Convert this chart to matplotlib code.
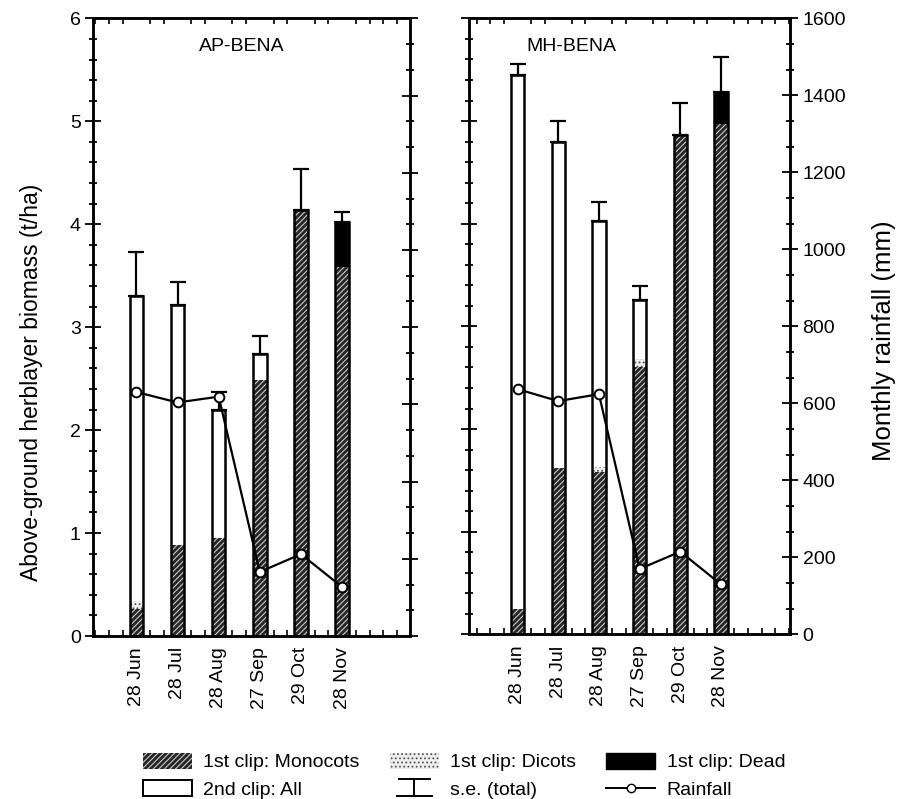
"""Herblayer biomass by clip date at two BENA sites, with monthly rainfall."""

import matplotlib

matplotlib.use("Agg")
import matplotlib.pyplot as plt
import numpy as np
from matplotlib.legend_handler import HandlerBase
from matplotlib.lines import Line2D
from matplotlib.patches import Patch
from matplotlib.ticker import MultipleLocator

plt.rcParams["font.family"] = ["Liberation Sans", "DejaVu Sans"]
plt.rcParams["hatch.linewidth"] = 0.8

DATES = ["28 Jun", "28 Jul", "28 Aug", "27 Sep", "29 Oct", "28 Nov"]

# AP-BENA (t/ha, rainfall mm)
AP_MONO = [0.26, 0.88, 0.95, 2.49, 4.14, 3.58]
AP_DICOT = [0.08, 0.0, 0.0, 0.0, 0.0, 0.0]
AP_DEAD = [0.0, 0.0, 0.0, 0.0, 0.0, 0.44]
AP_SECOND = [2.96, 2.34, 1.25, 0.25, 0.0, 0.0]
AP_SE = [0.43, 0.22, 0.17, 0.17, 0.40, 0.10]
AP_RAIN = [632, 605, 620, 166, 212, 127]

# MH-BENA
MH_MONO = [0.25, 1.62, 1.58, 2.60, 4.86, 4.97]
MH_DICOT = [0.0, 0.0, 0.05, 0.08, 0.0, 0.0]
MH_DEAD = [0.0, 0.0, 0.0, 0.0, 0.0, 0.31]
MH_SECOND = [5.20, 3.18, 2.40, 0.58, 0.0, 0.0]
MH_SE = [0.11, 0.20, 0.18, 0.13, 0.32, 0.34]
MH_RAIN = [637, 606, 624, 170, 215, 130]

MONO_FACE = "#262626"
MONO_HATCH = "#c8c8c8"
BAR_W = 0.33
FS = 14


class SEHandler(HandlerBase):
    """Legend key for the s.e. bar: cap, stem and base line."""

    def create_artists(self, legend, orig_handle, xdescent, ydescent,
                       width, height, fontsize, trans):
        cx = width / 2 - xdescent
        top = height * 1.0
        bot = -height * 0.05
        kw = dict(color="black", linewidth=1.4, transform=trans)
        return [
            Line2D([cx - width * 0.32, cx + width * 0.32], [top, top], **kw),
            Line2D([cx, cx], [bot, top], **kw),
            Line2D([cx - width * 0.36, cx + width * 0.36], [bot, bot], **kw),
        ]


def style_y(axis_obj, major, minor, labels_on, side):
    axis_obj.yaxis.set_major_locator(MultipleLocator(major))
    axis_obj.yaxis.set_minor_locator(MultipleLocator(minor))
    flags = {"left": side == "left", "right": side == "right",
             "labelleft": side == "left" and labels_on,
             "labelright": side == "right" and labels_on}
    axis_obj.tick_params(axis="y", which="major", direction="inout",
                         length=11, width=1.3, labelsize=FS, **flags)
    axis_obj.tick_params(axis="y", which="minor", direction="inout",
                         length=6, width=1.3, left=flags["left"],
                         right=flags["right"])


def draw_panel(ax, title, title_x, mono, dicot, dead, second, se, rain,
               xlim, label_left):
    x = np.arange(1, len(DATES) + 1)
    mono = np.array(mono)
    dicot = np.array(dicot)
    dead = np.array(dead)
    second = np.array(second)
    total = mono + dicot + dead + second

    ax2 = ax.twinx()

    ax.bar(x, mono, BAR_W, color=MONO_FACE, edgecolor=MONO_HATCH,
           hatch="//////", linewidth=0, zorder=2)
    ax.bar(x, dicot, BAR_W, bottom=mono, color="#eeeeee", edgecolor="#555555",
           hatch="....", linewidth=0, zorder=2)
    ax.bar(x, dead, BAR_W, bottom=mono + dicot, color="black", linewidth=0,
           zorder=2)
    ax.bar(x, second, BAR_W, bottom=mono + dicot + dead, color="white",
           linewidth=0, zorder=2)
    ax.bar(x, total, BAR_W, fill=False, edgecolor="black", linewidth=1.8,
           zorder=3)
    ax.errorbar(x, total, yerr=[np.zeros_like(total), np.array(se)],
                fmt="none", ecolor="black", elinewidth=1.6, capsize=5.5,
                capthick=1.6, zorder=3)

    ax.set_xlim(*xlim)
    ax.set_ylim(0, 6)
    ax.set_xticks(x)
    ax.set_xticklabels(DATES, rotation=90, fontsize=FS)
    ax.tick_params(axis="x", which="major", length=0, pad=8)
    ax.xaxis.set_minor_locator(MultipleLocator(1 / 3))
    ax.tick_params(axis="x", which="minor", direction="in", length=4,
                   width=1.2, top=True, bottom=True)
    style_y(ax, 1, 0.2, label_left, "left")
    for sp in ax.spines.values():
        sp.set_linewidth(1.8)
    ax.text(title_x, 0.955, title, transform=ax.transAxes, ha="center",
            va="center", fontsize=FS)

    ax2.plot(x, rain, color="black", linewidth=1.6, marker="o", markersize=7,
             markerfacecolor="white", markeredgecolor="black",
             markeredgewidth=1.4, zorder=4)
    ax2.set_ylim(0, 1600)
    style_y(ax2, 200, 200 / 3, not label_left, "right")
    for sp in ax2.spines.values():
        sp.set_linewidth(1.8)
    return ax2


def main():
    fig = plt.figure(figsize=(9.05, 7.99), dpi=100)
    ax_l = fig.add_axes([0.103, 0.204, 0.350, 0.773])
    ax_r = fig.add_axes([0.518, 0.206, 0.355, 0.771])

    draw_panel(ax_l, "AP-BENA", 0.47, AP_MONO, AP_DICOT, AP_DEAD, AP_SECOND,
               AP_SE, AP_RAIN, (-0.05, 7.65), label_left=True)
    ax_r2 = draw_panel(ax_r, "MH-BENA", 0.32, MH_MONO, MH_DICOT, MH_DEAD,
                       MH_SECOND, MH_SE, MH_RAIN, (-0.2, 7.7), label_left=False)

    ax_l.set_ylabel("Above-ground herblayer biomass (t/ha)", fontsize=16.5)
    ax_l.yaxis.set_label_coords(-0.16, 0.41)
    ax_r2.set_ylabel("Monthly rainfall (mm)", fontsize=18.5)
    ax_r2.yaxis.set_label_coords(1.255, 0.476)

    handles = [
        Patch(facecolor=MONO_FACE, edgecolor=MONO_HATCH, hatch="//////",
              linewidth=0),
        Patch(facecolor="white", edgecolor="black", linewidth=1.4),
        Patch(facecolor="#eeeeee", edgecolor="#555555", hatch="....",
              linewidth=0),
        "se",
        Patch(facecolor="black", edgecolor="black"),
        Line2D([], [], color="black", linewidth=1.4, marker="o", markersize=6,
               markerfacecolor="white", markeredgecolor="black"),
    ]
    labels = ["1st clip: Monocots", "2nd clip: All", "1st clip: Dicots",
              "s.e. (total)", "1st clip: Dead", "Rainfall"]
    fig.legend(handles, labels, ncol=3, loc="center",
               bbox_to_anchor=(0.513, 0.029), frameon=False, fontsize=14,
               handlelength=2.5, handleheight=0.9, handletextpad=0.6,
               columnspacing=1.55, labelspacing=0.45,
               handler_map={str: SEHandler()})

    fig.savefig("out.png", dpi=100)
    plt.close(fig)


if __name__ == "__main__":
    main()
